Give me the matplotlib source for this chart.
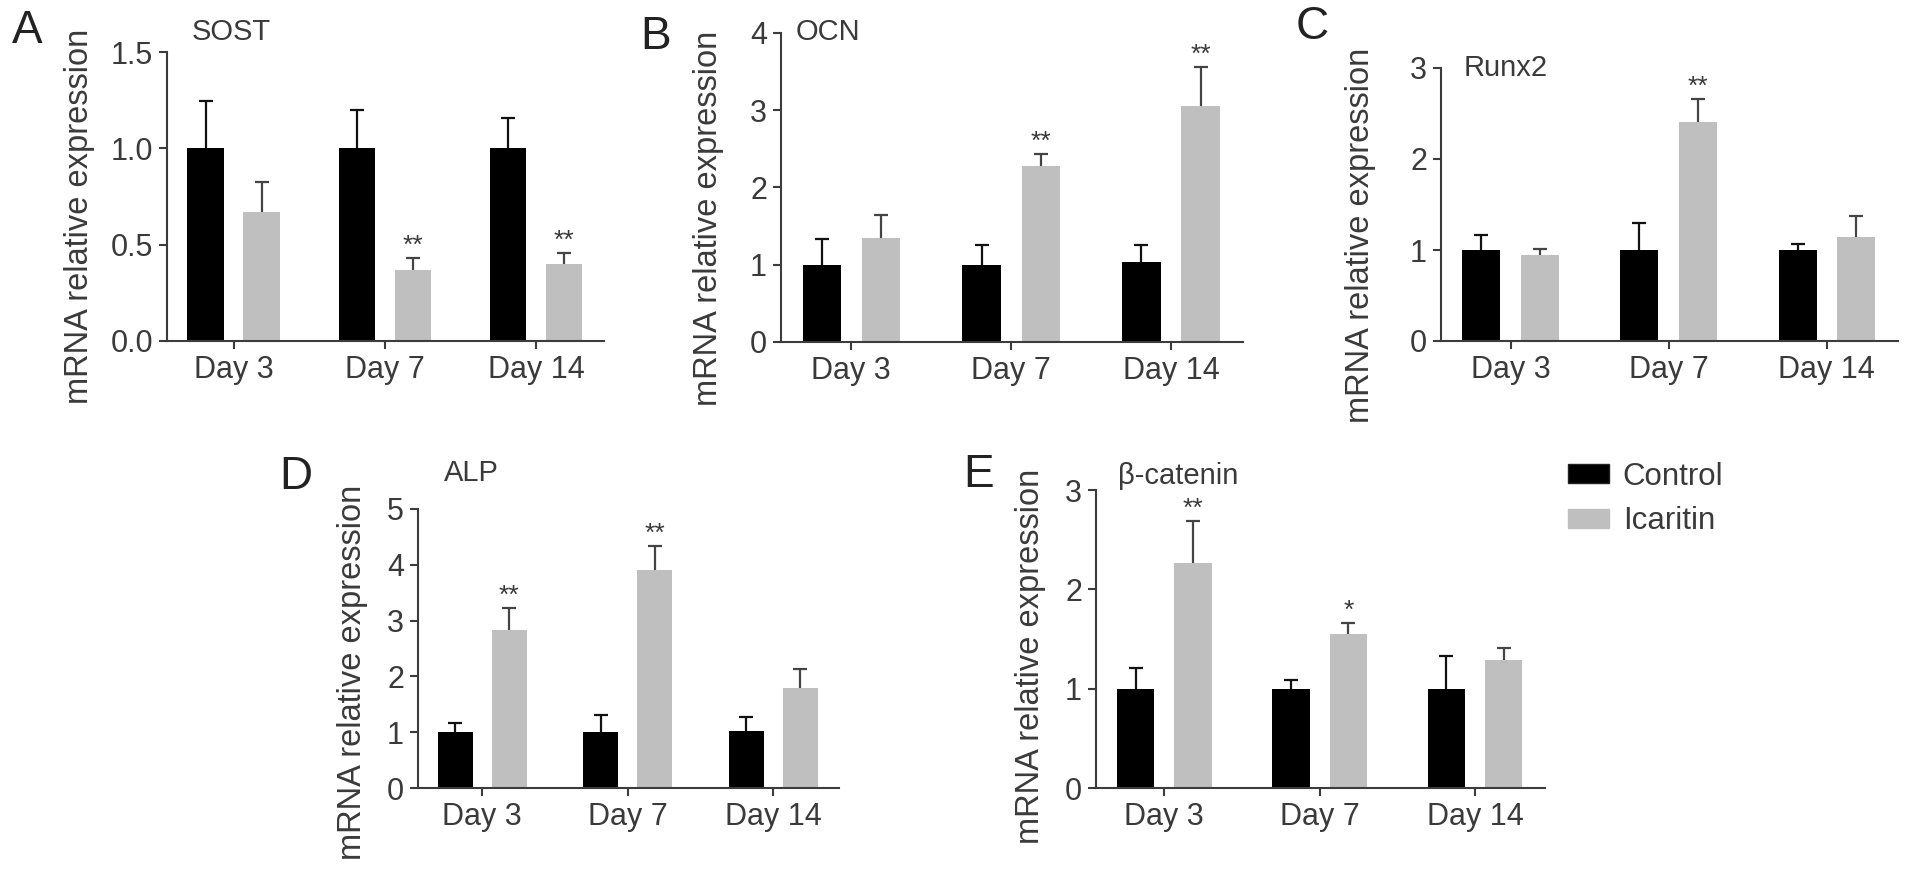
import matplotlib
matplotlib.use('Agg')
import matplotlib.pyplot as plt
from matplotlib.patches import Patch
import numpy as np

plt.rcParams['font.family'] = ['Liberation Sans', 'DejaVu Sans']

days = ['Day 3', 'Day 7', 'Day 14']
groups = ['Control', 'Icaritin']

# SOST
sost_ctrl = [1.0, 1.0, 1.0]
sost_ctrl_err = [0.245, 0.20, 0.16]
sost_ica = [0.67, 0.366, 0.40]
sost_ica_err = [0.154, 0.065, 0.057]
sost_sig = ['', '**', '**']

# OCN
ocn_ctrl = [1.0, 1.0, 1.03]
ocn_ctrl_err = [0.33, 0.25, 0.23]
ocn_ica = [1.34, 2.28, 3.05]
ocn_ica_err = [0.31, 0.16, 0.51]
ocn_sig = ['', '**', '**']

# Runx2
runx2_ctrl = [1.0, 1.0, 1.0]
runx2_ctrl_err = [0.16, 0.30, 0.07]
runx2_ica = [0.94, 2.41, 1.14]
runx2_ica_err = [0.07, 0.25, 0.23]
runx2_sig = ['', '**', '']

# ALP
alp_ctrl = [1.0, 1.0, 1.03]
alp_ctrl_err = [0.17, 0.30, 0.25]
alp_ica = [2.84, 3.90, 1.80]
alp_ica_err = [0.39, 0.44, 0.33]
alp_sig = ['**', '**', '']

# beta-catenin
bcat_ctrl = [1.0, 1.0, 1.0]
bcat_ctrl_err = [0.21, 0.09, 0.33]
bcat_ica = [2.27, 1.55, 1.29]
bcat_ica_err = [0.42, 0.11, 0.12]
bcat_sig = ['**', '*', '']

W, H = 1913, 875
TXT = '#3a3a3a'
CTRL_C = '#000000'
ICA_C = '#bfbfbf'


def rect(l, r, t, b):
    return [l / W, 1 - b / H, (r - l) / W, (b - t) / H]


def upper_err(ax, x, y, err, color):
    # only the upper half of the error bar, like Prism does
    line, caps, bars = ax.errorbar(x, y, yerr=[np.zeros(len(y)), err], fmt='none',
                                   ecolor=color, elinewidth=1.6, capsize=5,
                                   capthick=1.6, zorder=1)
    caps[0].set_visible(False)


def panel(ax, ctrl, ctrl_err, ica, ica_err, sig, yticks, fmt):
    x = np.arange(len(days))
    off = 0.185
    w = 0.24
    ax.bar(x - off, ctrl, w, color=CTRL_C, zorder=2)
    ax.bar(x + off, ica, w, color=ICA_C, zorder=2)
    upper_err(ax, x - off, ctrl, ctrl_err, '#111111')
    upper_err(ax, x + off, ica, ica_err, '#444444')
    for i, s in enumerate(sig):
        if s:
            ax.annotate(s, xy=(x[i] + off, ica[i] + ica_err[i]), xytext=(0, 0),
                        textcoords='offset points', ha='center', va='bottom',
                        fontsize=19, color=TXT)
    ax.set_xlim(-0.44, 2.45)
    ax.set_ylim(0, yticks[-1])
    ax.set_yticks(yticks)
    ax.set_yticklabels([fmt % v for v in yticks])
    ax.set_xticks(x)
    ax.set_xticklabels(days)
    for sp in ['top', 'right']:
        ax.spines[sp].set_visible(False)
    for sp in ['left', 'bottom']:
        ax.spines[sp].set_linewidth(1.5)
        ax.spines[sp].set_color('#3c3c3c')
    ax.tick_params(axis='both', colors='#3c3c3c', width=1.5, length=6,
                   labelsize=22, labelcolor=TXT, pad=4)


fig = plt.figure(figsize=(W / 100, H / 100), dpi=100)

axA = fig.add_axes(rect(167, 604, 52, 341))
panel(axA, sost_ctrl, sost_ctrl_err, sost_ica, sost_ica_err, sost_sig,
      [0, 0.5, 1.0, 1.5], '%.1f')
axB = fig.add_axes(rect(781, 1243, 33, 342))
panel(axB, ocn_ctrl, ocn_ctrl_err, ocn_ica, ocn_ica_err, ocn_sig,
      [0, 1, 2, 3, 4], '%d')
axC = fig.add_axes(rect(1441, 1898, 68, 341))
panel(axC, runx2_ctrl, runx2_ctrl_err, runx2_ica, runx2_ica_err, runx2_sig,
      [0, 1, 2, 3], '%d')
axD = fig.add_axes(rect(418, 839, 509, 788))
panel(axD, alp_ctrl, alp_ctrl_err, alp_ica, alp_ica_err, alp_sig,
      [0, 1, 2, 3, 4, 5], '%d')
axE = fig.add_axes(rect(1096, 1545, 490, 788))
panel(axE, bcat_ctrl, bcat_ctrl_err, bcat_ica, bcat_ica_err, bcat_sig,
      [0, 1, 2, 3], '%d')

# panel letters, gene titles, y labels
letters = [('A', 12, 31), ('B', 640, 37), ('C', 1296, 27), ('D', 279, 477), ('E', 963, 475)]
for s, px, py in letters:
    fig.text(px / W, 1 - py / H, s, fontsize=33, color='#222222', ha='left', va='center')

titles = [('SOST', 192, 32), ('OCN', 796, 32), ('Runx2', 1464, 68),
          ('ALP', 444, 473), ('β-catenin', 1118, 476)]
for s, px, py in titles:
    fig.text(px / W, 1 - py / H, s, fontsize=21, color=TXT, ha='left', va='center')

ylabs = [(80, 216), (709, 218), (1361, 235), (353, 672), (1031, 656)]
for px, py in ylabs:
    fig.text(px / W, 1 - py / H, 'mRNA relative expression', fontsize=23.5,
             color=TXT, rotation=90, ha='center', va='center')

handles = [Patch(facecolor=CTRL_C, edgecolor='#222222', label=groups[0]),
           Patch(facecolor=ICA_C, edgecolor=ICA_C, label=groups[1])]
leg = fig.legend(handles=handles, loc='upper left', bbox_to_anchor=(1568 / W, 1 - 462 / H),
                 frameon=False, fontsize=22.5, handlelength=1.3, handleheight=0.56,
                 handletextpad=0.45, labelspacing=0.45, borderpad=0, borderaxespad=0)
for t in leg.get_texts():
    t.set_color(TXT)

fig.savefig('out.png', dpi=100)
